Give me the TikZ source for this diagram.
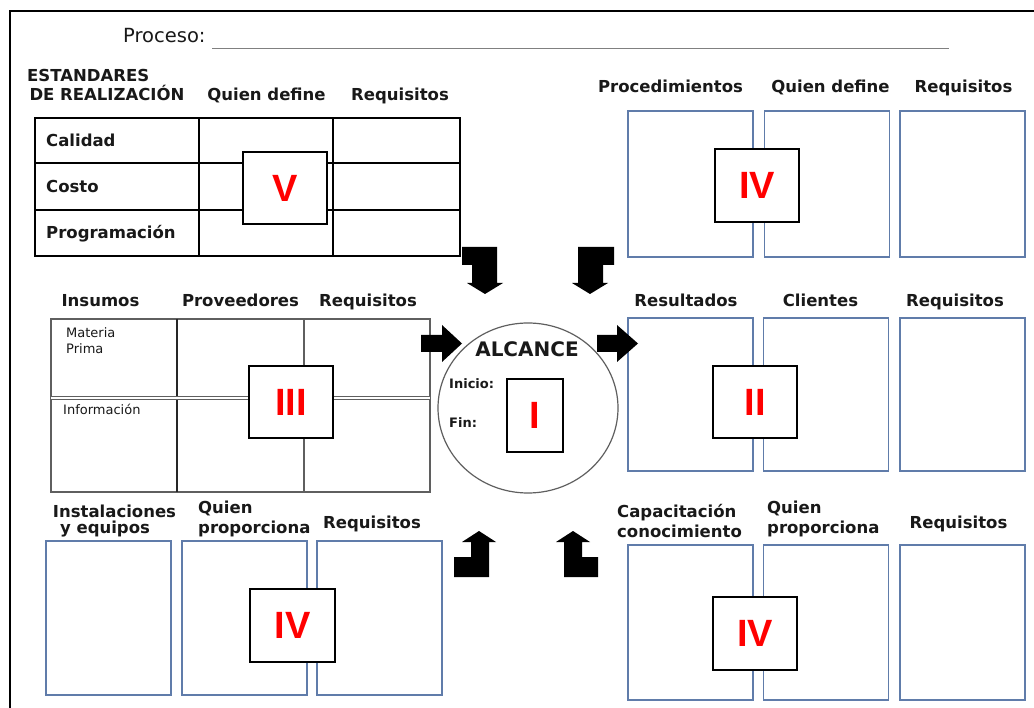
\documentclass[tikz,border=0pt]{standalone}
\usepackage{fontspec}
\setmainfont{DejaVu Sans}
\newfontfamily\numfont{Liberation Sans}
\usetikzlibrary{shapes.geometric}

\definecolor{boxblue}{RGB}{96,124,170}
\definecolor{numred}{RGB}{255,0,0}
\definecolor{gridgray}{RGB}{95,95,95}
\definecolor{inkdark}{RGB}{25,25,25}

\newcommand\hdrfont{\bfseries\fontsize{16.5}{18}\selectfont}
\newcommand\smallfont{\fontsize{13}{15}\selectfont}

\tikzset{
  hdr/.style={anchor=base, inner sep=0pt, text=inkdark, font=\hdrfont},
  hdrw/.style={anchor=base west, inner sep=0pt, text=inkdark, font=\hdrfont},
  note/.style={anchor=base west, inner sep=0pt, text=inkdark, font=\smallfont},
  bluebox/.style={draw=boxblue, line width=1.3pt, fill=white, minimum width=125pt, inner sep=0pt},
  numbox/.style={draw=black, line width=1.7pt, fill=white, inner sep=0pt,
    minimum width=84pt, minimum height=72pt, text=numred,
    font=\numfont\bfseries\fontsize{38}{38}\selectfont},
  blockarrow/.style={fill=black, draw=none},
}

\begin{document}
\begin{tikzpicture}[x=1pt,y=-1pt]
\useasboundingbox (0,0) rectangle (1034,708);
\fill[white] (0,0) rectangle (1034,708);

% sheet frame
\draw[line width=2pt] (10,708) -- (10,11) -- (1034,11);

% process title and its blank line
\node[anchor=base west, inner sep=0pt, text=inkdark, font=\fontsize{19.5}{22}\selectfont] (proceso) at (123,43) {Proceso:};
\coordinate (pl) at (212,49);
\coordinate (pr) at (949,49);
\draw[gray, line width=1pt] (pl) -- (pr);

% ---- V: performance standards table ----
\node[anchor=base west, inner sep=0pt, text=inkdark, font=\hdrfont] (est1) at (27,82) {ESTANDARES};
\node[hdr] (est2) at (107,101) {DE REALIZACIÓN};
\node[hdr] (estq) at (266.5,101) {Quien define};
\node[hdr] (estr) at (400,101) {Requisitos};
\draw[line width=2.6pt] (35,118) rectangle (460,256);
\draw[line width=2.6pt] (199,118) -- (199,256) (333,118) -- (333,256)
                         (35,163) -- (460,163) (35,210) -- (460,210);
\node[hdrw] (cal) at (46,147) {Calidad};
\node[hdrw] (cos) at (46,193) {Costo};
\node[hdrw] (pro) at (46,239) {Programación};
\node[numbox] (nV) at (285,188) {V};

% ---- IV: procedures ----
\node[hdr] (prc) at (670.5,93) {Procedimientos};
\node[hdr] (prq) at (830.5,93) {Quien define};
\node[hdr] (prr) at (963.5,93) {Requisitos};
\node[bluebox, minimum height=146pt] (pb1) at (690.5,184) {};
\node[bluebox, minimum height=146pt] (pb2) at (827,184) {};
\node[bluebox, minimum height=146pt] (pb3) at (962.5,184) {};
\node[numbox, minimum height=73pt] (nIVa) at (757,185.5) {IV};

% ---- III: inputs table ----
\node[hdr] (ins) at (100.5,307) {Insumos};
\node[hdr] (prv) at (240.5,307) {Proveedores};
\node[hdr] (inr) at (368,307) {Requisitos};
\draw[gridgray, line width=1.5pt] (51,319) rectangle (430,492);
\draw[black!85, line width=2pt] (177,319) -- (177,492);
\draw[gridgray, line width=1.5pt] (304,319) -- (304,492);
\draw[gridgray, line width=0.9pt, double=white, double distance=1.4pt] (51,398) -- (430,398);
\node[note] (mat1) at (66,338) {Materia};
\node[note] (mat2) at (66,354) {Prima};
\node[note] (inf) at (63,415) {Información};
\node[numbox] (nIII) at (291,402) {III};

% ---- I: scope ----
\node[draw=gridgray, line width=1.2pt, ellipse, minimum width=180pt, minimum height=170pt, inner sep=0pt] (alc) at (528,408) {};
\node[anchor=base, inner sep=0pt, text=inkdark, font=\bfseries\fontsize{20}{22}\selectfont] (alct) at (527,357) {ALCANCE};
\node[anchor=base west, inner sep=0pt, text=inkdark, font=\bfseries\fontsize{13}{15}\selectfont] (ini) at (449,389) {Inicio:};
\node[anchor=base west, inner sep=0pt, text=inkdark, font=\bfseries\fontsize{13}{15}\selectfont] (fin) at (449,428) {Fin:};
\node[numbox, minimum width=56pt, minimum height=73pt] (nI) at (535,415.5) {I};

% ---- II: outputs ----
\node[hdr] (res) at (686,307) {Resultados};
\node[hdr] (cli) at (820.5,307) {Clientes};
\node[hdr] (rer) at (955,307) {Requisitos};
\node[bluebox, minimum height=153pt] (rb1) at (690.5,394.5) {};
\node[bluebox, minimum height=153pt] (rb2) at (826,394.5) {};
\node[bluebox, minimum height=153pt] (rb3) at (962.5,394.5) {};
\node[numbox] (nII) at (755,402) {II};

% ---- IV: facilities and equipment ----
\node[hdr] (fac1) at (114.5,517) {Instalaciones};
\node[hdr] (fac2) at (105,533) {y equipos};
\node[hdrw] (faq1) at (198,514) {Quien};
\node[hdrw] (faq2) at (198,533) {proporciona};
\node[hdr] (far) at (372,529) {Requisitos};
\node[bluebox, minimum height=154pt] (fb1) at (108.5,618) {};
\node[bluebox, minimum height=154pt] (fb2) at (244.5,618) {};
\node[bluebox, minimum height=154pt] (fb3) at (379.5,618) {};
\node[numbox, minimum width=85pt, minimum height=73pt] (nIVb) at (292.5,625.5) {IV};

% ---- IV: training and knowledge ----
\node[hdrw] (cap1) at (617,517) {Capacitación};
\node[hdrw] (cap2) at (617,537) {conocimiento};
\node[hdrw] (caq1) at (767,514) {Quien};
\node[hdrw] (caq2) at (767,533) {proporciona};
\node[hdr] (car) at (958.5,529) {Requisitos};
\node[bluebox, minimum height=155pt] (cb1) at (690.5,622.5) {};
\node[bluebox, minimum height=155pt] (cb2) at (826,622.5) {};
\node[bluebox, minimum height=155pt] (cb3) at (962.5,622.5) {};
\node[numbox, minimum height=73pt] (nIVc) at (755,633.5) {IV};

% ---- block arrows around the scope ----
% from standards (down)
\fill[blockarrow] (462,247) -- (497,247) -- (497,283) -- (503,283) -- (485,294)
  -- (467,283) -- (472,283) -- (472,265) -- (462,265) -- cycle;
% from procedures (down)
\fill[blockarrow] (578,247) -- (614,247) -- (614,265) -- (603,265) -- (603,283)
  -- (608,283) -- (590,294) -- (572,283) -- (578,283) -- cycle;
% from inputs (right)
\fill[blockarrow] (421,335) -- (442,335) -- (442,325) -- (462,343.5) -- (442,362)
  -- (442,352) -- (421,352) -- cycle;
% to outputs (right)
\fill[blockarrow] (597,335) -- (617,335) -- (617,325) -- (638,343.5) -- (617,362)
  -- (617,352) -- (597,352) -- cycle;
% from facilities (up)
\fill[blockarrow] (479,531) -- (496,542) -- (489,542) -- (489,577) -- (454,577)
  -- (454,557) -- (471,557) -- (471,542) -- (462,542) -- cycle;
% from training (up)
\fill[blockarrow] (573,531) -- (590,542) -- (582,542) -- (582,557) -- (598,557)
  -- (598,577) -- (564,577) -- (564,542) -- (556,542) -- cycle;

\end{tikzpicture}
\end{document}
